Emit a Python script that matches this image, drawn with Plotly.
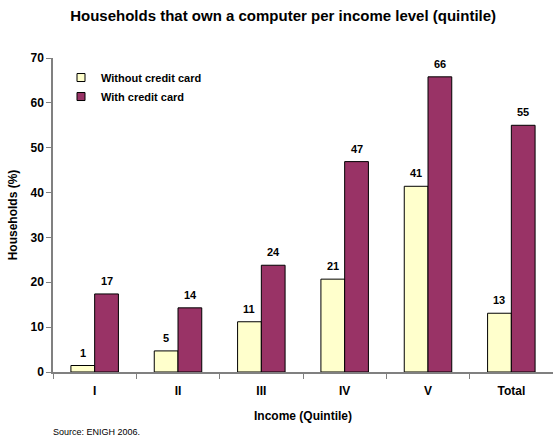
import plotly.graph_objects as go

# Household computer ownership by income quintile (%)
categories = ["I", "II", "III", "IV", "V", "Total"]
without_card = [1.45, 4.7, 11.2, 20.7, 41.4, 13.1]
with_card = [17.4, 14.3, 23.8, 46.9, 65.8, 55.0]

series = [
    ("Without credit card", without_card, "#FFFFCC", -12),
    ("With credit card", with_card, "#993366", 12),
]

FONT = "Liberation Sans, Arial, sans-serif"

fig = go.Figure()
for name, values, color, shift in series:
    fig.add_trace(go.Bar(
        name=name, x=categories, y=values, showlegend=False,
        marker=dict(color=color, line=dict(color="#000000", width=1)),
    ))
    # small square swatches for the legend
    fig.add_trace(go.Scatter(
        name=f"<b>{name}</b>", x=[None], y=[None], mode="markers",
        marker=dict(symbol="square", size=8, color=color,
                    line=dict(color="#000000", width=1)),
    ))
    # value labels above each bar
    for cat, val in zip(categories, values):
        fig.add_annotation(
            x=cat, y=val, xshift=shift, yshift=5, yanchor="bottom",
            text=f"<b>{val:.0f}</b>", showarrow=False,
            font=dict(family=FONT, size=11, color="#000000"),
        )

fig.update_layout(
    width=553, height=437,
    margin=dict(l=53, r=0, t=58, b=65),
    paper_bgcolor="white", plot_bgcolor="white",
    barmode="group", bargap=0.43, bargroupgap=0,
    font=dict(family=FONT, size=11, color="#000000"),
    title=dict(
        text="<b>Households that own a computer per income level (quintile)</b>",
        x=0.512, xanchor="center", y=0.965, yanchor="middle",
        font=dict(family=FONT, size=15, color="#000000"),
    ),
    legend=dict(
        x=0.016, y=0.984, xanchor="left", yanchor="top",
        bgcolor="rgba(0,0,0,0)", font=dict(family=FONT, size=11, color="#000000"),
        tracegroupgap=0,
    ),
    showlegend=True,
)

fig.update_xaxes(
    range=[-0.5, 5.5], showline=True, linecolor="#808080", linewidth=1.5,
    ticks="outside", tickson="boundaries", ticklen=5, tickcolor="#808080",
    ticklabelstandoff=7,
    tickfont=dict(family=FONT, size=12, color="#000000"),
    tickprefix="<b>", ticksuffix="</b>",
    title=dict(text="<b>Income (Quintile)</b>", standoff=14,
               font=dict(family=FONT, size=12, color="#000000")),
    showgrid=False, zeroline=False,
)
fig.update_yaxes(
    range=[0, 70], dtick=10, showline=True, linecolor="#808080", linewidth=1.5,
    ticks="outside", ticklen=5, tickcolor="#808080",
    tickfont=dict(family=FONT, size=12, color="#000000"),
    tickprefix="<b>", ticksuffix="</b>",
    title=dict(text="<b>Households (%)</b>", standoff=10,
               font=dict(family=FONT, size=12, color="#000000")),
    showgrid=False, zeroline=False,
)

fig.add_annotation(
    text="Source: ENIGH 2006.", xref="paper", yref="paper",
    x=-0.005, y=-0.19, xanchor="left", yanchor="middle", showarrow=False,
    font=dict(family=FONT, size=9, color="#000000"),
)

fig.write_html("out.html")
